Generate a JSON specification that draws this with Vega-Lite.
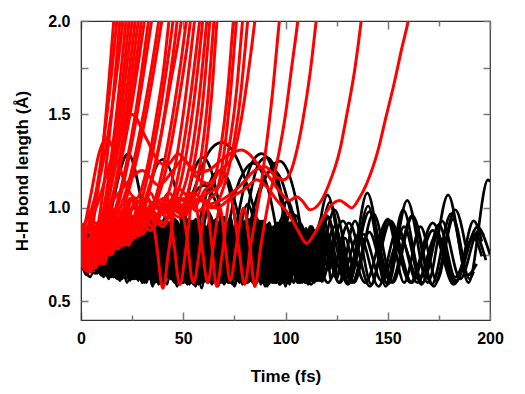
{
  "$schema": "https://vega.github.io/schema/vega-lite/v6.json",
  "width": 409,
  "height": 299,
  "autosize": "none",
  "padding": {"left": 81, "top": 21, "right": 35, "bottom": 74},
  "background": "white",
  "config": {
    "view": {"stroke": "#333", "strokeWidth": 1.2},
    "font": "Liberation Sans",
    "axis": {
      "grid": false,
      "labelFlush": false,
      "domainColor": "#333",
      "tickColor": "#777",
      "tickWidth": 1.5,
      "labelFont": "Liberation Sans",
      "labelFontWeight": "bold",
      "labelFontSize": 16,
      "labelColor": "#000",
      "titleFont": "Liberation Sans",
      "titleFontWeight": "bold",
      "titleFontSize": 17,
      "titleColor": "#000"
    }
  },
  "data": {"values": [
    {"id":"L1","c":"k","t":[0,3.5,13.5,23,33,42.5,52.5,62,72,81.5,91.5,101,111,120.5,130.5,140,150,159.5,169.5,179.5,189.5,199,200],"r":[0.74,0.8,0.64,0.88,0.62,0.92,0.6,0.98,0.6,1.02,0.59,1.04,0.6,1.07,0.6,1.08,0.59,1.04,0.6,1.07,0.6,1.15,1.14]},
    {"id":"L2","c":"k","t":[0,8,17.5,27,36.5,46,55.5,65,74.5,84,93.5,103,112.5,121.7,131,140.4,149,157.5,167,176.5,185.5,194.5,200],"r":[0.72,0.85,0.63,0.88,0.61,0.9,0.6,0.93,0.59,0.95,0.6,0.98,0.59,1.03,0.6,1.01,0.58,0.99,0.6,0.93,0.62,0.88,0.75]},
    {"id":"L3","c":"k","t":[0,10,19.5,29,38.5,48,57.5,67,76.5,86,95.5,105,114.5,124,133.5,143,152.5,162,171.5,181,189,193.5],"r":[0.76,0.84,0.64,0.87,0.62,0.9,0.6,0.92,0.61,0.94,0.6,0.96,0.61,0.99,0.6,0.97,0.6,0.95,0.59,0.97,0.64,0.7]},
    {"id":"L4","c":"k","t":[0,6,14,22,30,38,46,54,62,70,78,86,94,102,110,118,126,134,142,150,158,166,174,182,190,192],"r":[0.7,0.82,0.63,0.85,0.62,0.86,0.6,0.88,0.6,0.9,0.61,0.9,0.6,0.92,0.6,0.95,0.6,0.93,0.59,0.93,0.6,0.9,0.61,0.94,0.62,0.66]},
    {"id":"L5","c":"k","t":[0,5,13.5,22,30.5,39,47.5,56,64.5,73,81.5,90,98.5,107,115.5,124,132.5,141,149.5,158,166.5,175,183.5,192,196],"r":[0.72,0.8,0.64,0.84,0.62,0.86,0.61,0.88,0.6,0.9,0.6,0.88,0.6,0.92,0.61,0.9,0.6,0.87,0.6,0.9,0.59,0.91,0.61,0.93,0.82]},
    {"id":"L6","c":"k","t":[0,8,18.25,28.5,38.75,49,59.25,69.5,79.75,90,100.25,110.5,120.75,131,141.25,151.5,161.75,172,182.25,192.5,198],"r":[0.74,0.82,0.62,0.85,0.61,0.88,0.6,0.87,0.6,0.9,0.6,0.88,0.6,0.92,0.58,0.93,0.6,0.88,0.59,0.86,0.72]},
    {"id":"L7","c":"k","t":[0,3,12,21,30,39,48,57,66,75,84,93,102,111,120,129,138,147,156,165,174,183,192,196],"r":[0.75,0.7,0.84,0.64,0.85,0.63,0.86,0.62,0.85,0.63,0.87,0.62,0.86,0.63,0.85,0.62,0.86,0.61,0.84,0.62,0.86,0.63,0.84,0.74]},
    {"id":"L8","c":"k","t":[0,4.5,15,25.5,36,46.5,57,67.5,78,88.5,99,109.5,120,130.5,141,151.5,162,172.5,183,188],"r":[0.76,0.68,0.85,0.62,0.88,0.61,0.9,0.6,0.93,0.6,0.95,0.6,0.96,0.59,0.98,0.6,0.96,0.58,0.99,0.8]},
    {"id":"L9","c":"k","t":[0,7,18,29,40,51,62,73,84,95,106,117,128,139,150,161,172,183,194,197],"r":[0.73,0.65,0.84,0.62,0.86,0.61,0.9,0.6,0.92,0.6,0.9,0.61,0.93,0.6,0.94,0.6,0.92,0.6,0.9,0.85]},
    {"id":"L10","c":"k","t":[0,3,12.5,22,31.5,41,50.5,60,69.5,79,88.5,98,107.5,117,126.5,136,145.5,155,164.5,174,178],"r":[0.7,0.78,0.64,0.82,0.62,0.84,0.61,0.86,0.6,0.85,0.6,0.87,0.61,0.88,0.6,0.86,0.58,0.89,0.6,0.85,0.75]},
    {"id":"H1","c":"k","t":[0,4,8,12,16,20,24,28,32,36,40,44,48,55.7,62,68.8,75,81.6,88,93,97,101,105,109,113,117],"r":[0.75,0.66,0.88,0.64,0.9,0.63,0.92,0.62,0.93,0.6,0.9,0.62,0.85,1.11,1.29,1.35,1.29,1.11,0.85,0.62,0.88,0.6,0.9,0.61,0.88,0.62]},
    {"id":"H2","c":"k","t":[0,5,10,15,20,25,30,35,40,45,50,55,60,65,70,74,80,84,88.3,92,96,102,106,110,114,118,122],"r":[0.72,0.86,0.65,0.9,0.62,0.93,0.6,0.92,0.61,0.95,0.6,0.93,0.61,0.9,0.6,0.8,1.12,1.25,1.29,1.25,1.12,0.8,0.6,0.88,0.6,0.85,0.62]},
    {"id":"H3","c":"k","t":[0,4,8,12,16,20,24,28,32,36,40,44,48,52,56,59.7,63,67,71,75,79,83,87,90.8,94.5,98.5,103,107,111,115,119,124],"r":[0.77,0.9,0.67,0.92,0.64,0.94,0.62,0.95,0.61,0.93,0.6,0.9,0.8,1.05,1.22,1.27,1.22,1.05,0.8,0.62,0.8,1.08,1.24,1.27,1.22,1.05,0.78,0.6,0.85,0.62,0.86,0.63]},
    {"id":"H4","c":"k","t":[0,5,10,15,20,25,30,35,40,45,50,55,60,64,68,72,76,80,84,88,92,97.3,101,105,109,113,117,121,125],"r":[0.7,0.84,0.64,0.88,0.62,0.92,0.6,0.94,0.62,0.9,0.6,0.8,1.02,1.16,1.2,1.15,1.0,0.8,0.9,1.1,1.2,1.25,1.2,1.05,0.8,0.62,0.8,0.95,0.64]},
    {"id":"H5","c":"k","t":[0,4.5,9,13.5,18,22.5,27,31.5,36,40.5,45,49.5,54,58.5,63,68,72,76,80,84,88,92,96,100,104,108,112,116],"r":[0.74,0.63,0.86,0.62,0.9,0.6,0.93,0.61,0.95,0.6,0.92,0.6,0.93,0.62,0.9,0.7,0.9,1.1,1.2,1.24,1.2,1.08,0.86,0.62,0.9,0.6,0.88,0.62]},
    {"id":"H6","c":"k","t":[0,4,8,12,16,20,24,28,32,36,40,44,48,53,57,60.6,64,68,72,76,80,85,89.5,94,98,102,106,110,114,118],"r":[0.78,0.68,0.9,0.65,0.93,0.63,0.95,0.61,0.92,0.6,0.93,0.62,0.85,1.0,1.1,1.12,1.08,0.95,0.7,0.62,0.78,1.02,1.16,1.2,1.15,1.0,0.8,0.62,0.85,0.6]},
    {"id":"H7","c":"k","t":[0,4,8,12,16,20,24,28,32,36,40,44,48,52,56,60,64,68,72,76,80,84,88,92,96,100,104,108,112],"r":[0.73,0.85,0.65,0.88,0.63,0.9,0.62,0.92,0.6,0.9,0.62,0.93,0.6,0.91,0.62,0.9,1.1,1.2,1.12,0.9,0.62,0.9,0.6,0.92,0.62,0.95,0.6,0.9,0.6]},
    {"id":"BE1","c":"k","t":[0,4,8,14,23,31,36,40,44,48,52,56,60,64,68,72,76,80,84,88,92,96,100,104,108,112],"r":[0.73,0.85,0.66,0.95,1.29,0.95,0.62,0.85,0.62,0.88,0.6,0.9,0.61,0.9,0.6,0.92,0.61,0.9,0.6,0.93,0.6,0.9,0.62,0.88,0.61,0.86]},
    {"id":"BE2","c":"k","t":[0,5,10,15,20,25,31,40,48,53,58,62,66,70,74,78,82,86,90,94,98,102,106,110,115],"r":[0.76,0.66,0.9,0.64,0.95,0.63,1.0,1.26,1.0,0.6,0.9,0.6,0.92,0.6,0.9,0.62,0.94,0.6,0.9,0.62,0.9,0.6,0.88,0.61,0.85]},
    {"id":"M1","c":"k","t":[0,4,8,12,16,20,24,28,32,36,40,44,48,52,56,60,64,68,72,76,80,84,88,92,96,100,104,108,112,116,120],"r":[0.74,0.67,0.86,0.65,0.9,0.63,0.92,0.66,0.9,0.61,0.93,0.64,0.9,0.59,0.94,0.63,0.92,0.61,0.9,0.65,0.93,0.6,0.9,0.64,0.92,0.58,0.91,0.63,0.9,0.66,0.88]},
    {"id":"M2","c":"k","t":[0,2,6,10,14,18,22,26,30,34,38,42,46,50,54,58,62,66,70,74,78,82,86,90,94,98,102,106,110,114,118,122],"r":[0.72,0.68,0.88,0.64,0.9,0.66,0.91,0.62,0.93,0.65,0.9,0.59,0.94,0.64,0.92,0.61,0.9,0.66,0.95,0.6,0.91,0.63,0.93,0.58,0.9,0.64,0.92,0.6,0.89,0.65,0.9,0.67]},
    {"id":"M3","c":"k","t":[0,3,7,11,15,19,23,27,31,35,39,43,47,51,55,59,63,67,71,75,79,83,87,91,95,99,103,107,111,115,119],"r":[0.75,0.86,0.67,0.88,0.63,0.87,0.65,0.9,0.6,0.88,0.64,0.91,0.58,0.89,0.65,0.92,0.61,0.9,0.63,0.88,0.59,0.9,0.65,0.91,0.6,0.88,0.63,0.9,0.59,0.87,0.66]},
    {"id":"M4","c":"k","t":[0,1,5,9,13,17,21,25,29,33,37,41,45,49,53,57,61,65,69,73,77,81,85,89,93,97,101,105,109,113,117,121,125,129],"r":[0.7,0.68,0.84,0.67,0.86,0.64,0.85,0.66,0.87,0.62,0.86,0.65,0.88,0.6,0.86,0.64,0.87,0.62,0.85,0.66,0.88,0.6,0.86,0.63,0.87,0.59,0.85,0.64,0.86,0.61,0.84,0.67,0.86,0.64]},
    {"id":"M5","c":"k","t":[0,4,8,12,16,20,24,28,32,36,40,44,48,52,56,60,64,68,72,76,80,84,88,92,96,100,104,108],"r":[0.78,0.9,0.66,0.92,0.64,0.94,0.61,0.93,0.65,0.95,0.6,0.92,0.63,0.94,0.58,0.9,0.64,0.93,0.6,0.92,0.66,0.94,0.59,0.9,0.63,0.92,0.6,0.9]},
    {"id":"M6","c":"k","t":[0,2,6,10,14,18,22,26,30,34,38,42,46,50,54,58,62,66,70,74,78,82,86,90,94,98,102,106,110,114,118,122],"r":[0.74,0.86,0.67,0.9,0.65,0.92,0.62,0.9,0.64,0.91,0.59,0.93,0.63,0.9,0.6,0.92,0.65,0.94,0.59,0.9,0.63,0.92,0.6,0.91,0.66,0.93,0.59,0.9,0.64,0.88,0.61,0.8]},
    {"id":"M7","c":"k","t":[0,3,7,11,15,19,23,27,31,35,39,43,47,51,55,59,63,67,71,75,79,83,87,91,95,99,103,107,111,115,119],"r":[0.72,0.66,0.84,0.64,0.86,0.62,0.88,0.65,0.87,0.59,0.9,0.63,0.88,0.61,0.89,0.64,0.9,0.58,0.87,0.63,0.89,0.61,0.9,0.65,0.88,0.6,0.86,0.64,0.88,0.61,0.82]},
    {"id":"M8","c":"k","t":[0,1,5,9,13,17,21,25,29,33,37,41,45,49,53,57,61,65,69,73,77,81,85,89,93,97,101,105,109,113,117,121,125,129,133],"r":[0.76,0.8,0.67,0.9,0.65,0.92,0.63,0.94,0.66,0.93,0.61,0.95,0.64,0.92,0.59,0.94,0.63,0.93,0.6,0.95,0.65,0.9,0.58,0.93,0.63,0.92,0.6,0.9,0.66,0.9,0.61,0.85,0.62,0.84,0.66]},
    {"id":"M9","c":"k","t":[0,5,10,15,20,25,30,35,40,45,50,55,60,65,70,75,80,85,90,95,100,105],"r":[0.73,0.67,0.87,0.64,0.9,0.62,0.92,0.6,0.9,0.64,0.93,0.59,0.91,0.63,0.94,0.58,0.92,0.64,0.9,0.6,0.93,0.62]},
    {"id":"M10","c":"k","t":[0,2.5,7.5,12.5,17.5,22.5,27.5,32.5,37.5,42.5,47.5,52.5,57.5,62.5,67.5,72.5,77.5,82.5,87.5,92.5,97.5,102.5,107.5,112.5,117.5],"r":[0.76,0.88,0.66,0.9,0.63,0.91,0.65,0.93,0.6,0.92,0.63,0.94,0.59,0.91,0.64,0.93,0.6,0.92,0.63,0.9,0.59,0.92,0.64,0.9,0.66]},
    {"id":"M11","c":"k","t":[0,5,10,15,20,25,30,35,40,45,50,55,60,65,70,75,80,85,90,95,100,105,110,115,120,125,130],"r":[0.7,0.8,0.68,0.82,0.67,0.84,0.66,0.83,0.65,0.85,0.66,0.84,0.64,0.85,0.65,0.84,0.63,0.86,0.66,0.84,0.64,0.85,0.66,0.83,0.7,0.84,0.68]},
    {"id":"M12","c":"k","t":[0,2.5,7.5,12.5,17.5,22.5,27.5,32.5,37.5,42.5,47.5,52.5,57.5,62.5,67.5,72.5,77.5,82.5,87.5,92.5,97.5,102.5,107.5,112.5,117.5],"r":[0.72,0.68,0.8,0.66,0.82,0.65,0.84,0.64,0.83,0.63,0.85,0.65,0.84,0.62,0.85,0.64,0.83,0.63,0.84,0.62,0.85,0.64,0.83,0.63,0.8]},
    {"id":"M13","c":"k","t":[0,4,8,12,16,20,24,28,32,36,40,44,48,52,56,60,64,68,72,76,80,84,88,92,96,100],"r":[0.74,0.82,0.68,0.85,0.66,0.87,0.64,0.88,0.62,0.9,0.65,0.88,0.6,0.9,0.63,0.91,0.59,0.89,0.64,0.92,0.6,0.9,0.63,0.92,0.61,0.88]},
    {"id":"M14","c":"k","t":[0,3,7,11,15,19,23,27,31,35,39,43,47,51,55,59,63,67,71,75,79,83,87,91,95,99,103,107,111],"r":[0.71,0.64,0.86,0.63,0.88,0.61,0.9,0.62,0.92,0.58,0.9,0.63,0.93,0.6,0.91,0.57,0.94,0.62,0.9,0.59,0.92,0.61,0.9,0.58,0.91,0.62,0.89,0.6,0.85]},
    {"id":"R1","c":"r","t":[0,2,7.6,11.8,16,18.1],"r":[0.78,0.75,1.04,1.45,2.0,2.3]},
    {"id":"R2","c":"r","t":[0,1.5,7.9,12.7,17.5,19.9],"r":[0.85,0.86,1.12,1.5,2.0,2.3]},
    {"id":"R3","c":"r","t":[0,3,9.4,14.2,19,21.4],"r":[0.72,0.68,0.98,1.42,2.0,2.3]},
    {"id":"R4","c":"r","t":[0,2,9.4,15,20.5,23.3],"r":[0.9,0.92,1.17,1.52,2.0,2.3]},
    {"id":"R5","c":"r","t":[0,4,11.2,16.6,22,24.7],"r":[0.76,0.7,1.0,1.43,2.0,2.3]},
    {"id":"R6","c":"r","t":[0,2.5,5,12.4,18,23.5,26.3],"r":[0.8,0.72,0.78,1.06,1.46,2.0,2.3]},
    {"id":"R7","c":"r","t":[0,3,11.8,18.4,25,28.3],"r":[0.7,0.66,0.97,1.41,2.0,2.3]},
    {"id":"R8","c":"r","t":[0,3,6,14.2,20.4,26.5,29.6],"r":[0.88,0.76,0.8,1.08,1.47,2.0,2.3]},
    {"id":"R9","c":"r","t":[0,5,14.2,21.1,28,31.5],"r":[0.74,0.68,0.98,1.42,2.0,2.3]},
    {"id":"R10","c":"r","t":[0,4,8,16.6,23,29.5,32.7],"r":[0.82,0.72,0.85,1.11,1.49,2.0,2.3]},
    {"id":"R11","c":"r","t":[0,3,6,16,23.5,31,34.7],"r":[0.92,0.82,0.8,1.08,1.47,2.0,2.3]},
    {"id":"R12","c":"r","t":[0,4,7,10,19.2,26.1,33,36.5],"r":[0.75,0.68,0.78,0.82,1.09,1.47,2.0,2.3]},
    {"id":"R13","c":"r","t":[0,4,8,18.6,26.6,34.5,38.5],"r":[0.78,0.88,0.74,1.03,1.45,2.0,2.3]},
    {"id":"R14","c":"r","t":[0,5,10,14,23.6,30.8,38,41.6],"r":[0.86,0.7,0.88,0.9,1.15,1.52,2.0,2.3]},
    {"id":"R15","c":"r","t":[0,4,8,12,23,31.3,39.5,43.6],"r":[0.73,0.66,0.85,0.8,1.08,1.47,2.0,2.3]},
    {"id":"R16","c":"r","t":[0,5,10,15,20,24,32.4,38.7,45,48.2],"r":[0.8,0.68,0.9,0.75,0.98,0.9,1.16,1.52,2.0,2.3]},
    {"id":"R17","c":"r","t":[0,5,10,15,20,25,30,36.8,41.9,47,49.6],"r":[0.75,0.92,0.78,1.0,0.85,1.05,1.02,1.25,1.58,2.0,2.3]},
    {"id":"R18","c":"r","t":[0,6,12,18,24,28,33,39,44,49,52],"r":[0.9,0.72,0.95,0.8,1.05,0.98,1.1,1.38,1.68,2.0,2.3]},
    {"id":"W3","c":"r","t":[0,5,9,12.6,17,22,27,32,37,40.5,43,45],"r":[0.8,1.08,1.3,1.37,1.28,1.12,1.05,1.2,1.5,1.75,2.0,2.2]},
    {"id":"R20","c":"r","t":[0,5,10,15,20,26,31,39.2,45.4,51.5,54.6],"r":[0.77,0.9,0.7,0.95,0.8,1.02,0.92,1.17,1.53,2.0,2.3]},
    {"id":"R21","c":"r","t":[0,6,12,18,24,30,34,41,47,53.5,56.5],"r":[0.84,0.68,0.92,0.78,0.96,0.86,0.95,1.18,1.52,2.0,2.3]},
    {"id":"R22","c":"r","t":[0,5,11,17,23,29,35,39,45.6,50.6,55.5,58.5],"r":[0.7,0.82,0.7,0.9,0.8,0.98,0.9,0.97,1.2,1.55,2.0,2.3]},
    {"id":"R23","c":"r","t":[0,6,12,18,25,31,37,42,48,53,58,61],"r":[0.88,0.75,0.98,0.85,1.05,0.95,1.04,0.98,1.2,1.55,2.0,2.3]},
    {"id":"R24","c":"r","t":[0,5,10,16,22,28,34,40,44,50,55,59.5,62],"r":[0.75,0.66,0.85,0.78,0.94,0.85,1.0,0.92,0.98,1.2,1.55,2.0,2.3]},
    {"id":"R25","c":"r","t":[0,7,14,21,28,35,42,47,53,57.5,61.5,64],"r":[0.8,0.92,0.8,0.97,0.88,1.03,0.97,1.02,1.22,1.56,2.0,2.3]},
    {"id":"R26","c":"r","t":[0,6,12,19,26,33,40,47,50,55,59.5,63,65.5],"r":[0.72,0.8,0.74,0.9,0.84,0.98,0.9,1.05,1.04,1.22,1.56,2.0,2.3]},
    {"id":"R27","c":"r","t":[0,8,15,22,29,36,43,49,53,58,62,65,67.5],"r":[0.86,0.72,0.9,0.85,1.0,0.95,1.08,1.0,1.02,1.22,1.58,2.0,2.3]},
    {"id":"R28","c":"r","t":[0,6,13,20,27,34,41,48,54,57,61,64,66.5,69],"r":[0.78,0.7,0.88,0.8,0.95,0.88,1.0,0.95,1.08,1.07,1.3,1.62,2.0,2.3]},
    {"id":"R29","c":"r","t":[0,8,16,24,32,40,48,55,61,64,68,71.5,74.5,77],"r":[0.82,0.7,0.92,0.82,1.0,0.92,1.05,1.0,1.1,1.12,1.3,1.6,2.0,2.3]},
    {"id":"R30","c":"r","t":[0,7,14,21,28,35,42,50,57,63,66,70,73,76,78.5],"r":[0.74,0.86,0.75,0.95,0.85,1.02,0.95,1.05,0.98,1.05,1.08,1.3,1.6,2.0,2.3]},
    {"id":"R31","c":"r","t":[0,8,16,24,32,40,48,55,62,68,72,76,79,81.5],"r":[0.9,0.76,0.96,0.88,1.04,0.98,1.1,1.03,1.08,1.12,1.3,1.62,2.0,2.3]},
    {"id":"R32","c":"r","t":[0,7,14,21,28,35,42,50,58,64,70,74,78,81.5,84],"r":[0.76,0.68,0.88,0.8,0.96,0.9,1.02,0.96,1.04,1.0,1.12,1.3,1.6,2.0,2.3]},
    {"id":"W4","c":"r","t":[0,10,20,30,38,45,50,56,62,68,74,78,81.5,85,87],"r":[0.75,0.95,1.1,1.2,1.12,1.2,1.26,1.17,1.13,1.2,1.27,1.45,1.7,2.0,2.2]},
    {"id":"D","c":"r","t":[0,5,10,15,20,26,33,37,40,43,47,51,55,58,61,63.5,66.3,69,73,77,80,83,87,90,93.5,97,99],"r":[0.74,0.92,0.76,0.98,0.84,1.02,1.05,0.8,0.57,0.78,1.05,0.9,0.6,0.78,1.04,0.85,0.58,0.75,1.05,0.8,0.59,0.8,1.05,1.28,1.6,2.0,2.2]},
    {"id":"E","c":"r","t":[0,5,10,16,22,28,34,38,42,45,48.4,51.5,55,58.5,62,65,68,70.5,73,76,79.5,82.5,85,88,92,96,100,103,106,108],"r":[0.8,0.7,0.9,0.8,1.0,0.9,1.08,1.0,1.06,0.85,0.59,0.8,1.07,0.85,0.6,0.82,1.0,0.8,0.61,0.8,1.0,0.8,0.58,0.8,1.05,1.25,1.5,1.75,2.0,2.2]},
    {"id":"A","c":"r","t":[0,6,12,18,25,32,40,48,55,62,70,78,85,90,95,99,102,105.6,108.5,112,115,117],"r":[0.88,0.7,0.95,0.8,1.0,0.95,1.05,1.0,1.08,1.02,1.05,1.12,1.2,1.22,1.17,1.15,1.18,1.31,1.47,1.72,2.0,2.2]},
    {"id":"B","c":"r","t":[0,8,16,25,32,38.6,42,47.6,52,56.6,62,68,73,78.6,82,86,92.4,97,102,105.5,108,112,117,121,126.6,130,134,137,139],"r":[0.82,1.02,1.3,1.5,1.37,1.24,1.23,1.29,1.24,1.19,1.2,1.25,1.29,1.31,1.29,1.24,1.16,1.09,1.04,1.06,1.04,0.99,1.03,1.12,1.31,1.5,1.75,2.0,2.2]},
    {"id":"C","c":"r","t":[0,5,10,16,22,28,35,42,50,58,66,74,80,86,91,95.8,102,106,110.4,114,118.5,122,126.6,129.5,132.4,136,139.7,145.3,149,153,157,160,162],"r":[0.76,0.9,0.78,0.95,0.82,1.0,0.9,1.02,0.98,1.05,1.0,1.06,1.1,1.15,1.11,1.04,0.96,0.88,0.81,0.86,0.95,1.01,1.04,1.02,1.0,1.05,1.13,1.31,1.48,1.66,1.86,2.0,2.12]}
  ]},
  "transform": [{"flatten": ["t", "r"]}],
  "layer": [
    {
      "transform": [{"filter": "datum.c === 'k'"}],
      "mark": {"type": "line", "color": "#000000", "strokeWidth": 2.7, "interpolate": "monotone", "clip": true},
      "encoding": {
        "x": {"field": "t", "type": "quantitative", "scale": {"domain": [0, 200], "nice": false},
          "axis": {"values": [0,50,100,150,200], "ticks": false, "labelPadding": 10, "title": "Time (fs)", "titlePadding": 22}},
        "y": {"field": "r", "type": "quantitative", "scale": {"domain": [0.4, 2.0], "nice": false, "zero": false},
          "axis": {"values": [0.5,1,1.5,2], "format": ".1f", "ticks": false, "labelPadding": 11, "title": "H-H bond length (Å)", "titlePadding": 16}},
        "detail": {"field": "id"}
      }
    },
    {
      "transform": [{"filter": "datum.c === 'r'"}],
      "mark": {"type": "line", "color": "#ff0000", "strokeWidth": 3, "interpolate": "monotone", "clip": true},
      "encoding": {
        "x": {"field": "t", "type": "quantitative",
          "axis": {"orient": "bottom", "values": [0,50,100,150,200], "labels": false, "title": null, "domain": false, "tickSize": 8, "offset": -8}},
        "y": {"field": "r", "type": "quantitative",
          "axis": {"orient": "left", "values": [0.5,0.75,1,1.25,1.5,1.75,2], "labels": false, "title": null, "domain": false, "tickSize": 7, "offset": -7}},
        "detail": {"field": "id"}
      }
    },
    {
      "transform": [{"filter": "datum.id === 'L1'"}],
      "mark": {"type": "line", "opacity": 0, "clip": true},
      "encoding": {
        "x": {"field": "t", "type": "quantitative",
          "axis": {"orient": "bottom", "values": [25,75,125,175], "labels": false, "title": null, "domain": false, "tickSize": 5, "offset": -5}},
        "y": {"field": "r", "type": "quantitative",
          "axis": {"orient": "right", "values": [0.5,0.75,1,1.25,1.5,1.75,2], "labels": false, "title": null, "domain": false, "tickSize": 7, "offset": -7}},
        "detail": {"field": "id"}
      }
    },
    {
      "transform": [{"filter": "datum.id === 'L1'"}],
      "mark": {"type": "line", "opacity": 0, "clip": true},
      "encoding": {
        "x": {"field": "t", "type": "quantitative",
          "axis": {"orient": "top", "values": [0,50,100,150,200], "labels": false, "title": null, "domain": false, "tickSize": 8, "offset": -8}},
        "y": {"field": "r", "type": "quantitative", "axis": null},
        "detail": {"field": "id"}
      }
    },
    {
      "transform": [{"filter": "datum.id === 'L1'"}],
      "mark": {"type": "line", "opacity": 0, "clip": true},
      "encoding": {
        "x": {"field": "t", "type": "quantitative",
          "axis": {"orient": "top", "values": [25,75,125,175], "labels": false, "title": null, "domain": false, "tickSize": 5, "offset": -5}},
        "y": {"field": "r", "type": "quantitative", "axis": null},
        "detail": {"field": "id"}
      }
    }
  ],
  "resolve": {"axis": {"x": "independent", "y": "independent"}}
}
